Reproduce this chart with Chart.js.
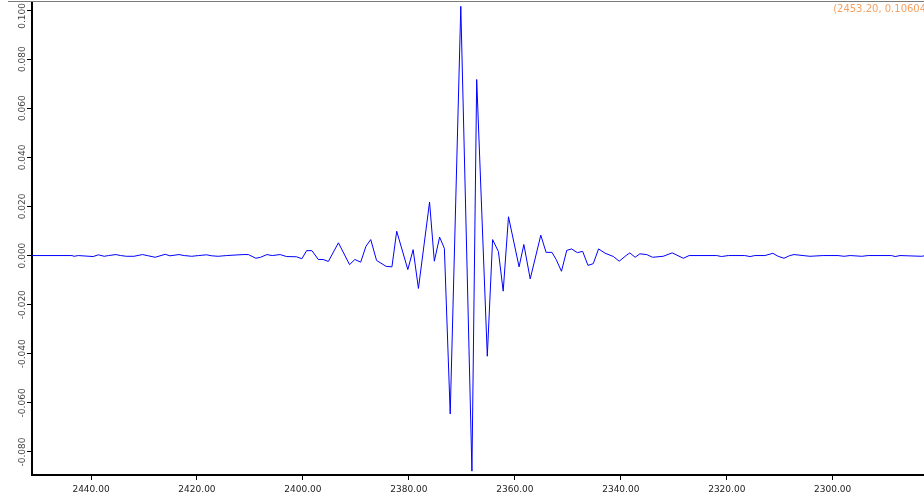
<!DOCTYPE html>
<html>
<head>
<meta charset="utf-8">
<title>Interferogram</title>
<script src="https://cdn.jsdelivr.net/npm/chart.js@4/dist/chart.umd.min.js"></script>
<style>
  html, body { margin: 0; padding: 0; background: #ffffff; }
  #wrap { width: 924px; height: 496px; }
</style>
</head>
<body>
<div id="wrap"><canvas id="c" width="924" height="496"></canvas></div>
<script>
// Sample positions (vertices of the trace) and their intensities
const wavenumbers = [
  2451.1, 2443.6, 2443.2, 2442.4, 2439.6, 2438.6, 2437.5, 2436.7, 2435.3, 2434.4,
  2433.3, 2431.9, 2430.3, 2429.4, 2427.9, 2426.0, 2425.1, 2423.4, 2422.4, 2421.0,
  2419.7, 2418.2, 2417.2, 2416.0, 2414.4, 2411.3, 2410.3, 2408.9, 2408.0, 2406.8,
  2405.8, 2404.3, 2403.1, 2401.2, 2400.2, 2399.3, 2398.3, 2397.1, 2396.2, 2395.2,
  2393.3, 2391.2, 2390.2, 2389.1, 2388.1, 2387.2, 2386.1, 2384.3, 2383.2, 2382.3,
  2380.2, 2379.2, 2378.2, 2376.1, 2375.2, 2374.2, 2373.3, 2372.2, 2370.2, 2368.1,
  2367.2, 2365.2, 2364.2, 2363.1, 2362.2, 2361.2, 2359.2, 2358.3, 2357.1, 2355.1,
  2354.1, 2353.0, 2352.2, 2351.2, 2350.2, 2349.3, 2348.2, 2347.2, 2346.2, 2345.2,
  2344.2, 2343.0, 2341.4, 2340.3, 2339.0, 2338.3, 2337.3, 2336.4, 2335.1, 2334.0,
  2332.0, 2330.3, 2328.2, 2327.1, 2321.9, 2321.0, 2319.7, 2316.6, 2315.6, 2314.7,
  2312.8, 2311.3, 2310.3, 2309.2, 2308.1, 2307.3, 2305.6, 2304.3, 2301.8, 2299.0,
  2297.9, 2296.7, 2294.5, 2293.3, 2288.9, 2288.2, 2287.3, 2283.2, 2282.5
];
const intensity = [
   0.0000,  0.0000, -0.0003,  0.0000, -0.0004,  0.0003, -0.0003,  0.0000,  0.0004,  0.0000,
  -0.0003, -0.0003,  0.0004,  0.0000, -0.0007,  0.0005, -0.0001,  0.0004,  0.0000, -0.0003,
   0.0000,  0.0003, -0.0001, -0.0003,  0.0000,  0.0004,  0.0004, -0.0011, -0.0007,  0.0004,
   0.0000,  0.0004, -0.0004, -0.0005, -0.0013,  0.0020,  0.0020, -0.0016, -0.0016, -0.0024,
   0.0052, -0.0037, -0.0016, -0.0027,  0.0038,  0.0065, -0.0020, -0.0044, -0.0046,  0.0099,
  -0.0057,  0.0024, -0.0134,  0.0218, -0.0023,  0.0075,  0.0029, -0.0645,  0.1015, -0.0878,
   0.0717, -0.0410,  0.0065,  0.0016, -0.0145,  0.0158, -0.0046,  0.0045, -0.0095,  0.0083,
   0.0013,  0.0013, -0.0016, -0.0064,  0.0021,  0.0027,  0.0012,  0.0017, -0.0040, -0.0033,
   0.0027,  0.0010, -0.0004, -0.0023,  0.0000,  0.0011, -0.0007,  0.0007,  0.0004, -0.0007,
  -0.0003,  0.0011, -0.0011,  0.0000,  0.0000, -0.0004,  0.0000,  0.0000, -0.0004,  0.0000,
   0.0000,  0.0009, -0.0003, -0.0011,  0.0000,  0.0004,  0.0000, -0.0003,  0.0000,  0.0000,
  -0.0003,  0.0000, -0.0003,  0.0000,  0.0000, -0.0004,  0.0000, -0.0003,  0.0000
];
const xTicks = [2440, 2420, 2400, 2380, 2360, 2340, 2320, 2300];
const yTicks = [-0.08, -0.06, -0.04, -0.02, 0, 0.02, 0.04, 0.06, 0.08, 0.10];
const readoutText = '(2453.20, 0.10604)';

const X_MIN = 2282.77, X_MAX = 2451.14;
const Y_MIN = -0.08937, Y_MAX = 0.10326;

const points = wavenumbers.map((x, i) => ({ x: x, y: intensity[i] }));

const tickFont = { family: 'DejaVu Sans', size: 9 };

// Frame rule along the top edge and the cursor readout in the corner
const frameDecor = {
  id: 'frameDecor',
  afterDraw(chart) {
    const c = chart.ctx;
    c.save();
    c.strokeStyle = '#7a7a7a';
    c.lineWidth = 1;
    c.beginPath();
    c.moveTo(8, 1.5);
    c.lineTo(chart.width, 1.5);
    c.stroke();
    c.fillStyle = '#f4a060';
    c.font = '10px "DejaVu Sans"';
    c.textBaseline = 'middle';
    c.textAlign = 'right';
    c.fillText(readoutText, chart.width + 6, 9);
    c.restore();
  }
};

// Vertical y-axis labels, read bottom-to-top, kept inside the canvas at the top
const yLabels = {
  id: 'yLabels',
  afterDraw(chart) {
    const s = chart.scales.y;
    const c = chart.ctx;
    c.save();
    c.font = '9px "DejaVu Sans"';
    c.fillStyle = '#444444';
    c.textAlign = 'center';
    c.textBaseline = 'middle';
    s.ticks.forEach(t => {
      const txt = Number(t.value).toFixed(3);
      const w = c.measureText(txt).width;
      const py = Math.max(s.getPixelForValue(t.value), 3 + w / 2);
      c.save();
      c.translate(22.5, py);
      c.rotate(-Math.PI / 2);
      c.fillText(txt, 0, 0);
      c.restore();
    });
    c.restore();
  }
};

new Chart(document.getElementById('c'), {
  type: 'line',
  data: {
    datasets: [{
      data: points,
      borderColor: '#0000ff',
      borderWidth: 1,
      pointRadius: 0,
      tension: 0,
      fill: false
    }]
  },
  options: {
    responsive: false,
    animation: false,
    devicePixelRatio: 1,
    layout: { padding: { top: 2, right: 0, bottom: 0, left: 0 } },
    plugins: {
      legend: { display: false },
      tooltip: { enabled: false },
      title: { display: false }
    },
    scales: {
      x: {
        type: 'linear',
        reverse: true,
        min: X_MIN,
        max: X_MAX,
        afterBuildTicks: s => { s.ticks = xTicks.map(v => ({ value: v })); },
        afterFit: s => { s.height = 21; },
        grid: { drawOnChartArea: false, drawTicks: true, tickLength: 5, color: '#000000', lineWidth: 1 },
        border: { display: true, color: '#000000', width: 2 },
        ticks: {
          font: tickFont,
          color: '#222222',
          padding: 4,
          maxRotation: 0,
          minRotation: 0,
          autoSkip: false,
          callback: v => Number(v).toFixed(2)
        }
      },
      y: {
        type: 'linear',
        min: Y_MIN,
        max: Y_MAX,
        afterBuildTicks: s => { s.ticks = yTicks.map(v => ({ value: v })); },
        afterFit: s => { s.width = 32; },
        grid: { drawOnChartArea: false, drawTicks: true, tickLength: 5, color: '#000000', lineWidth: 1 },
        border: { display: true, color: '#000000', width: 2 },
        ticks: { display: false }
      }
    }
  },
  plugins: [frameDecor, yLabels]
});
</script>
</body>
</html>
